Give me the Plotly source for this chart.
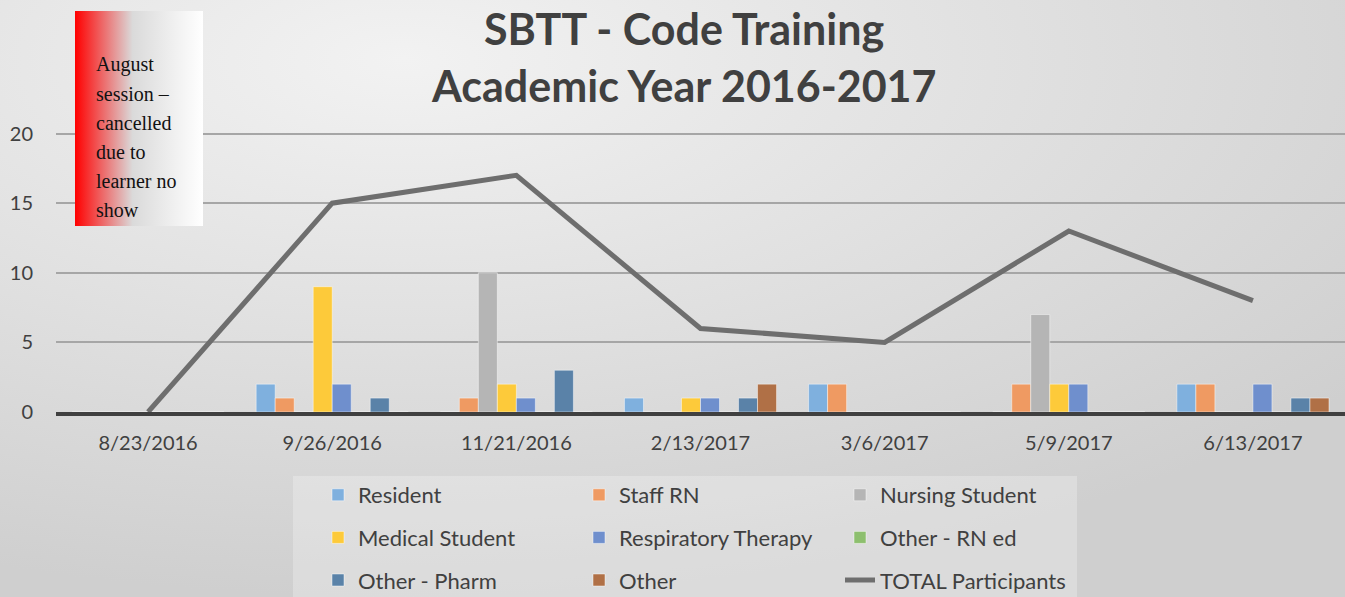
import base64
import plotly.graph_objects as go

sessions = ["8/23/2016", "9/26/2016", "11/21/2016", "2/13/2017", "3/6/2017", "5/9/2017", "6/13/2017"]

resident = [0, 2, 0, 1, 2, 0, 2]
staff_rn = [0, 1, 1, 0, 2, 2, 2]
nursing_student = [0, 0, 10, 0, 0, 7, 0]
medical_student = [0, 9, 2, 1, 0, 2, 0]
respiratory_therapy = [0, 2, 1, 1, 0, 2, 2]
other_rn_ed = [0, 0, 0, 0, 0, 0, 0]
other_pharm = [0, 1, 3, 1, 0, 0, 1]
other = [0, 0, 0, 2, 0, 0, 1]
total_participants = [0, 15, 17, 6, 5, 13, 8]

series = [
    ("Resident", resident, "#7FB0DE"),
    ("Staff RN", staff_rn, "#EF9A62"),
    ("Nursing Student", nursing_student, "#B5B5B5"),
    ("Medical Student", medical_student, "#FDCA3A"),
    ("Respiratory Therapy", respiratory_therapy, "#6F8FCD"),
    ("Other - RN ed", other_rn_ed, "#8DBF6E"),
    ("Other - Pharm", other_pharm, "#5A82A8"),
    ("Other", other, "#B07046"),
]

title_lines = ["SBTT - Code Training", "Academic Year 2016-2017"]
note_lines = ["August", "session \u2013", "cancelled", "due to", "learner no", "show"]

W, H = 1345, 597
L, R, T, B = 56, 0, 128, 185
pw, ph = W - L - R, H - T - B


def px(x):
    return (x - L) / pw


def py(y):
    return (H - B - y) / ph


def svg_uri(svg):
    return "data:image/svg+xml;base64," + base64.b64encode(svg.encode()).decode()


bg_svg = (
    f'<svg xmlns="http://www.w3.org/2000/svg" width="{W}" height="{H}">'
    '<defs><radialGradient id="g" cx="0.3" cy="0.1" r="0.9">'
    '<stop offset="0" stop-color="#F2F2F2"/><stop offset="1" stop-color="#CFCFCF"/>'
    '</radialGradient></defs>'
    f'<rect width="{W}" height="{H}" fill="url(#g)"/></svg>'
)
box_svg = (
    '<svg xmlns="http://www.w3.org/2000/svg" width="128" height="215">'
    '<defs><linearGradient id="r" x1="0" y1="0" x2="1" y2="0">'
    '<stop offset="0" stop-color="#FF0000"/><stop offset="0.45" stop-color="#DADADA"/>'
    '<stop offset="1" stop-color="#FFFFFF"/></linearGradient></defs>'
    '<rect width="128" height="215" fill="url(#r)"/></svg>'
)

fig = go.Figure()
legends = ["legend", "legend2", "legend3"]
for i, (name, vals, color) in enumerate(series):
    fig.add_trace(go.Bar(
        x=sessions, y=vals, name=name, marker_color=color,
        marker_line=dict(color="rgba(255,255,255,0.45)", width=1),
        legend=legends[i % 3], legendgroup=name,
    ))
fig.add_trace(go.Scatter(
    x=sessions, y=total_participants, name="TOTAL Participants", mode="lines",
    line=dict(color="#6E6E6E", width=5), legend="legend3", legendgroup="total",
))

font = "Lato"
leg_common = dict(font=dict(family=font, size=22, color="#404040"), bgcolor="rgba(0,0,0,0)",
                  tracegroupgap=11, yanchor="top", y=py(474), xanchor="left", maxheight=400)

fig.update_layout(
    width=W, height=H,
    margin=dict(l=L, r=R, t=T, b=B, autoexpand=False),
    paper_bgcolor="#DDDDDD", plot_bgcolor="rgba(0,0,0,0)",
    barmode="group", bargap=0.174, bargroupgap=0,
    xaxis=dict(showgrid=False, tickfont=dict(family=font, size=20, color="#404040"),
               ticks="", showline=True, linecolor="#404040", linewidth=4,
               ticklabelstandoff=10),
    yaxis=dict(range=[0, 20.4], tickvals=[0, 5, 10, 15, 20], showgrid=True,
               gridcolor="#A6A6A6", gridwidth=2, zeroline=False,
               tickfont=dict(family=font, size=20, color="#404040"), ticklabelstandoff=22),
    legend=dict(x=px(318), **leg_common),
    legend2=dict(x=px(579), **leg_common),
    legend3=dict(x=px(840), **leg_common),
    images=[
        dict(source=svg_uri(bg_svg), xref="paper", yref="paper", x=px(0), y=py(0),
             sizex=W / pw, sizey=H / ph, sizing="stretch", layer="below",
             xanchor="left", yanchor="top"),
        dict(source=svg_uri(box_svg), xref="paper", yref="paper", x=px(75), y=py(11),
             sizex=128 / pw, sizey=215 / ph, sizing="stretch", layer="above",
             xanchor="left", yanchor="top"),
    ],
    shapes=[dict(type="rect", xref="paper", yref="paper", x0=px(293), x1=px(1077),
                 y0=py(476), y1=py(600), fillcolor="rgba(255,255,255,0.25)",
                 line=dict(width=0), layer="below")],
)

for i, line in enumerate(title_lines):
    fig.add_annotation(text=f"<b>{line}</b>", xref="paper", yref="paper", x=px(684),
                       y=py(1 + 57 * i), xanchor="center", yanchor="top", showarrow=False,
                       font=dict(family=font, size=43, color="#404040"))

for i, line in enumerate(note_lines):
    fig.add_annotation(text=line, xref="paper", yref="paper", x=px(94), y=py(65 + 29 * i),
                       xanchor="left", yanchor="middle", showarrow=False,
                       font=dict(family="Liberation Serif", size=20, color="#111111"))

fig.write_html("out.html", config={"displayModeBar": False},
               post_script="document.body.style.margin = '0px';")
